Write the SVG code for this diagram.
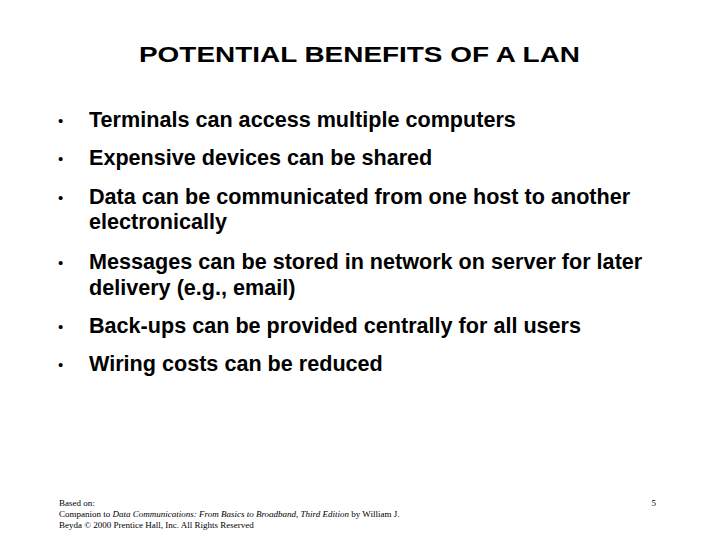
<svg xmlns="http://www.w3.org/2000/svg" width="720" height="540" viewBox="0 0 720 540">
<style>
.t{font-family:"Liberation Sans",Arial,sans-serif;font-weight:bold;font-size:21.6px;fill:#000}
.b{font-family:"Liberation Sans",Arial,sans-serif;font-size:15px;fill:#000}
.f{font-family:"Liberation Serif","Times New Roman",serif;font-size:9px;fill:#000}
</style>
<rect width="720" height="540" fill="#fff"/>
<g id="title"><text class="t" x="139" y="62" textLength="441" lengthAdjust="spacingAndGlyphs" style="font-size:22px">POTENTIAL BENEFITS OF A LAN</text></g>
<g id="bullets">
<text class="b" x="58" y="126">•</text><text class="t" x="89" y="127">Terminals can access multiple computers</text>
<text class="b" x="58" y="164">•</text><text class="t" x="89" y="165">Expensive devices can be shared</text>
<text class="b" x="58" y="203">•</text><text class="t" x="89" y="204">Data can be communicated from one host to another</text>
<text class="t" x="89" y="229">electronically</text>
<text class="b" x="58" y="268">•</text><text class="t" x="89" y="269">Messages can be stored in network on server for later</text>
<text class="t" x="89" y="295">delivery (e.g., email)</text>
<text class="b" x="58" y="332">•</text><text class="t" x="89" y="333">Back-ups can be provided centrally for all users</text>
<text class="b" x="58" y="370">•</text><text class="t" x="89" y="371">Wiring costs can be reduced</text>
</g>
<g id="footer">
<text class="f" x="59" y="506">Based on:</text>
<text class="f" x="59" y="517">Companion to <tspan font-style="italic">Data Communications:  From Basics to Broadband, Third Edition</tspan> by William J.</text>
<text class="f" x="59" y="528">Beyda © 2000 Prentice Hall, Inc.  All Rights Reserved</text>
<text class="f" x="656" y="506" text-anchor="end">5</text>
</g>
</svg>
